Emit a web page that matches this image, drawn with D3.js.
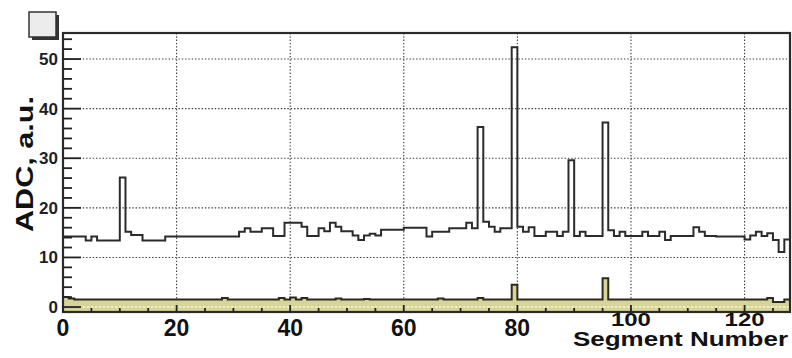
<!DOCTYPE html>
<html>
<head>
<meta charset="utf-8">
<script src="https://cdn.jsdelivr.net/npm/d3@7"></script>
<style>
  body { margin: 0; background: #fff; }
  svg { display: block; font-family: "Liberation Sans", Arial, sans-serif; font-weight: bold; }
</style>
</head>
<body>
<svg id="chart" width="792" height="358"></svg>
<script>
// ADC per segment, upper histogram (black line)
var adcSignal = [
  14.2,14.2,14.2,14.2,13.4,14.2,13.4,13.4,13.4,13.4,
  26.1,15.2,14.5,14.5,13.4,13.4,13.4,13.4,14.2,14.2,
  14.2,14.2,14.2,14.2,14.2,14.2,14.2,14.2,14.2,14.2,
  14.2,15.2,15.9,15.2,15.2,15.9,15.9,14.3,14.3,17.0,
  17.0,17.0,16.2,14.3,14.3,15.9,15.3,17.0,16.2,15.3,
  15.3,14.4,13.5,14.4,14.8,14.4,15.6,15.6,15.6,15.6,
  16.0,16.0,16.0,16.0,14.2,15.2,15.2,15.2,15.9,15.9,
  15.9,17.0,15.9,36.3,17.2,16.2,15.2,15.9,15.9,52.4,
  16.2,15.2,16.1,14.3,14.3,15.2,15.2,14.3,15.2,29.6,
  14.3,15.2,14.3,14.3,14.3,37.2,15.5,14.3,15.2,14.3,
  14.3,14.3,15.2,14.3,14.3,15.2,13.5,14.3,14.3,14.3,
  14.3,16.1,15.2,14.3,14.3,14.2,14.2,14.2,14.2,14.2,
  13.6,14.4,15.2,14.3,14.9,13.5,11.1,13.6
];

// lower histogram (filled olive)
var adcPedestal = [
  2.0,1.7,1.5,1.5,1.5,1.5,1.5,1.5,1.5,1.5,
  1.5,1.5,1.5,1.5,1.5,1.5,1.5,1.5,1.5,1.5,
  1.5,1.5,1.5,1.5,1.5,1.5,1.5,1.5,1.8,1.5,
  1.5,1.5,1.5,1.5,1.5,1.5,1.5,1.5,1.8,1.5,
  1.9,1.5,1.8,1.5,1.5,1.5,1.5,1.5,1.7,1.5,
  1.5,1.5,1.5,1.6,1.5,1.5,1.5,1.5,1.5,1.5,
  1.5,1.5,1.5,1.5,1.5,1.5,1.7,1.5,1.5,1.5,
  1.5,1.5,1.5,1.8,1.5,1.5,1.5,1.5,1.5,4.5,
  1.5,1.5,1.5,1.5,1.5,1.5,1.5,1.5,1.5,1.5,
  1.5,1.5,1.5,1.5,1.5,5.8,1.5,1.5,1.5,1.5,
  1.5,1.5,1.5,1.5,1.5,1.5,1.5,1.5,1.5,1.5,
  1.5,1.5,1.5,1.5,1.5,1.5,1.5,1.5,1.5,1.5,
  1.5,1.5,1.5,1.5,1.8,1.0,1.0,1.5
];

var xTickLabels = [0, 20, 40, 60, 80, 100, 120];
var yTickLabels = [0, 10, 20, 30, 40, 50];
var xTitle = "Segment Number";
var yTitle = "ADC, a.u.";

var svg = d3.select("#chart");
var padL = 63, padR = 790, padT = 33, padB = 312;

var x = d3.scaleLinear().domain([0, 128]).range([padL, padR]);
var y = d3.scaleLinear().domain([-1, 55.25]).range([padB, padT]);

// grid
var grid = svg.append("g")
    .attr("stroke", "#3a3a3a")
    .attr("stroke-width", 1.1)
    .attr("stroke-dasharray", "1.4,1.9");
grid.selectAll("line.gx").data(xTickLabels.filter(function(d){ return d > 0; }))
  .enter().append("line")
    .attr("x1", function(d){ return x(d); }).attr("x2", function(d){ return x(d); })
    .attr("y1", padT).attr("y2", padB);
grid.selectAll("line.gy").data(yTickLabels)
  .enter().append("line")
    .attr("x1", padL).attr("x2", padR)
    .attr("y1", function(d){ return y(d); }).attr("y2", function(d){ return y(d); });

// bins -> step points (add closing edge at 128)
function steps(vals) {
    var pts = vals.map(function(v, i){ return [i, v]; });
    pts.push([vals.length, vals[vals.length - 1]]);
    return pts;
}

var area = d3.area()
    .curve(d3.curveStepAfter)
    .x(function(d){ return x(d[0]); })
    .y0(y(-1))
    .y1(function(d){ return y(d[1]); });
var line = d3.line()
    .curve(d3.curveStepAfter)
    .x(function(d){ return x(d[0]); })
    .y(function(d){ return y(d[1]); });

svg.append("path")
    .attr("d", area(steps(adcPedestal)))
    .attr("fill", "#d6d597");

// y=0 grid shows through the fill as light dots
svg.append("line")
    .attr("x1", padL).attr("x2", padR)
    .attr("y1", y(0)).attr("y2", y(0))
    .attr("stroke", "#f4f4e4").attr("stroke-width", 1.5)
    .attr("stroke-dasharray", "2.5,1.5");

svg.append("path")
    .attr("d", line(steps(adcPedestal)))
    .attr("fill", "none")
    .attr("stroke", "#2a2a20")
    .attr("stroke-width", 2);

svg.append("path")
    .attr("d", line(steps(adcSignal)))
    .attr("fill", "none")
    .attr("stroke", "#2b2b2b")
    .attr("stroke-width", 2);

// frame
svg.append("rect")
    .attr("x", padL).attr("y", padT)
    .attr("width", padR - padL).attr("height", padB - padT)
    .attr("fill", "none")
    .attr("stroke", "#2a2a2a")
    .attr("stroke-width", 2.2);

// y ticks: minor every 2, major every 10
var yTicks = d3.range(0, 55, 2);
svg.append("g").selectAll("line").data(yTicks)
  .enter().append("line")
    .attr("x1", padL)
    .attr("x2", function(d){ return padL + (d % 10 == 0 ? 18 : 9); })
    .attr("y1", function(d){ return y(d); }).attr("y2", function(d){ return y(d); })
    .attr("stroke", "#222").attr("stroke-width", 1.8);

// x ticks every 5
var xTicks = d3.range(0, 129, 5);
svg.append("g").selectAll("line").data(xTicks)
  .enter().append("line")
    .attr("x1", function(d){ return x(d); }).attr("x2", function(d){ return x(d); })
    .attr("y1", padB)
    .attr("y2", function(d){ return padB - (d % 20 == 0 ? 7 : 4); })
    .attr("stroke", "#222").attr("stroke-width", 1.8);

// y labels
svg.append("g").selectAll("text").data(yTickLabels)
  .enter().append("text")
    .attr("x", 58)
    .attr("y", function(d){ return y(d) + 6; })
    .attr("text-anchor", "end")
    .attr("font-size", 17)
    .attr("fill", "#1e1e28")
    .text(function(d){ return d; });

// x labels (100 and 120 sit higher in the original)
svg.append("g").selectAll("text").data(xTickLabels)
  .enter().append("text")
    .attr("x", function(d){ return x(d); })
    .attr("y", function(d){ return d >= 100 ? 326 : 336; })
    .attr("text-anchor", "middle")
    .attr("font-size", function(d){ return d >= 100 ? 18 : 23; })
    .attr("fill", "#111")
    .each(function(d){
        if (d >= 100) d3.select(this).attr("textLength", 40).attr("lengthAdjust", "spacingAndGlyphs");
    })
    .text(function(d){ return d; });

svg.append("text")
    .attr("x", 788).attr("y", 346)
    .attr("text-anchor", "end")
    .attr("font-size", 20)
    .attr("fill", "#111")
    .attr("textLength", 215).attr("lengthAdjust", "spacingAndGlyphs")
    .text(xTitle);

svg.append("text")
    .attr("transform", "translate(33,164) rotate(-90)")
    .attr("text-anchor", "middle")
    .attr("font-size", 24)
    .attr("fill", "#111")
    .attr("textLength", 136).attr("lengthAdjust", "spacingAndGlyphs")
    .text(yTitle);

// little stats box in the corner
svg.append("rect")
    .attr("x", 32).attr("y", 15).attr("width", 27).attr("height", 25)
    .attr("fill", "#333");
svg.append("rect")
    .attr("x", 29).attr("y", 12).attr("width", 27).attr("height", 25)
    .attr("fill", "#ececec")
    .attr("stroke", "#333").attr("stroke-width", 1.5);
</script>
</body>
</html>
